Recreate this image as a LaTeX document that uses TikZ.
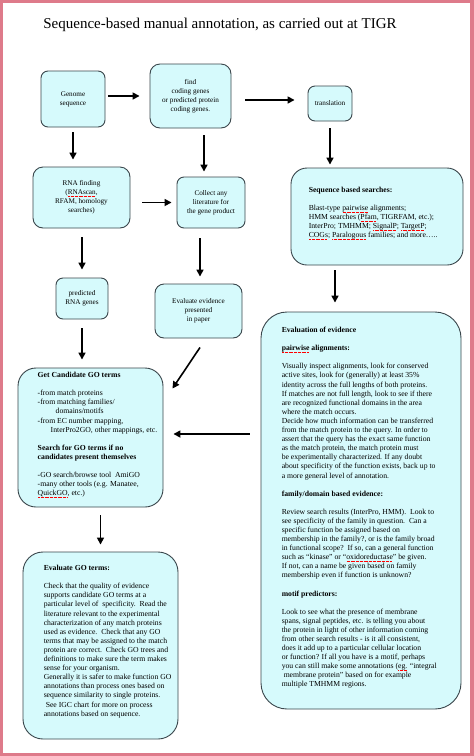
\documentclass[tikz,border=0pt]{standalone}
\usepackage{fontspec}
\setmainfont{Liberation Serif}
\usetikzlibrary{arrows.meta}

\definecolor{boxfill}{RGB}{214,250,252}
\definecolor{boxline}{RGB}{58,70,76}
\definecolor{framepink}{RGB}{222,122,138}

% red spell-check marks under some words
\newsavebox{\splbox}
\newcommand{\spl}[1]{\sbox\splbox{#1}\rlap{\color{red}\raisebox{-1.8pt}{\hbox to\wd\splbox{\leaders\hbox to 1.3pt{\hss\rule{0.7pt}{0.4pt}\hss}\hfill}}}#1}

\begin{document}
\begin{tikzpicture}[x=1pt, y=-1pt, >={Triangle[length=7pt,width=7pt]},
    box/.style={draw=boxline, fill=boxfill, line width=0.9pt, rounded corners=7pt, align=center, inner sep=2pt, font=\fontsize{7.2}{9}\selectfont},
    bigbox/.style={draw=boxline, fill=boxfill, line width=0.9pt, rounded corners=20pt},
    txt/.style={align=left, inner sep=0pt, font=\fontsize{7.7}{9.1}\selectfont},
    arr/.style={->, line width=1.6pt}]
    \useasboundingbox (0,0) rectangle (474,756);
    \fill[framepink] (0,0) rectangle (474,756);
    \fill[white] (3,3) rectangle (470,753);

    % Title
    \node[font=\fontsize{15}{18}\selectfont, anchor=base] (title) at (220,28) {Sequence-based manual annotation, as carried out at TIGR};

    % Define boxes
    \node[box, minimum width=64pt, minimum height=56pt] (genome) at (73,99) {Genome\\sequence};
    \node[box, minimum width=81pt, minimum height=64pt, rounded corners=10pt] (find) at (190.5,96) {find\\coding genes\\or predicted protein\\coding genes.};
    \node[box, minimum width=44pt, minimum height=35pt, inner sep=1pt] (trans) at (330,103.5) {translation};
    \node[box, minimum width=97pt, minimum height=61pt, rounded corners=10pt] (rna) at (81.5,197.5) {RNA finding\\(\spl{RNAscan},\\RFAM, homology\\searches)};
    \node[box, minimum width=68pt, minimum height=51pt] (collect) at (211,202.5) {Collect any\\literature for\\the gene product};
    \node[bigbox, minimum width=172pt, minimum height=97pt, rounded corners=16pt] (seq) at (377,216.5) {};
    \node[box, minimum width=52pt, minimum height=41pt] (pred) at (82,298.5) {predicted\\RNA genes};
    \node[box, minimum width=87pt, minimum height=54pt, rounded corners=9pt] (evid) at (198.5,311) {Evaluate evidence\\presented\\in paper};
    \node[bigbox, minimum width=145pt, minimum height=139pt, rounded corners=18pt] (cand) at (90.5,437.5) {};
    \node[bigbox, minimum width=200pt, minimum height=397pt, rounded corners=26pt] (evaluation) at (361,510.5) {};
    \node[bigbox, minimum width=155pt, minimum height=187pt] (goterms) at (100.5,645.5) {};

    % Texts of the big boxes
    \node[txt, anchor=north west] (seqtext) at ([shift={(18,19.5)}]seq.north west) {\textbf{Sequence based searches:}\\[9pt]
        Blast-type \spl{pairwise} alignments;\\
        HMM searches (\spl{Pfam}, TIGRFAM, etc.);\\
        InterPro; TMHMM; \spl{SignalP}; \spl{TargetP};\\
        \spl{COGs}; \spl{Paralogous} families; and more\dots..};
    \node[txt, anchor=north west] (candtext) at ([shift={(20,4.5)}]cand.north west) {\textbf{Get Candidate GO terms}\\[9pt]
        -from match proteins\\
        -from matching families/\\
        \hspace*{18pt}domains/motifs\\
        -from EC number mapping,\\
        \hspace*{13pt}InterPro2GO, other mappings, etc.\\[9pt]
        \textbf{Search for GO terms if no}\\
        \textbf{candidates present themselves}\\[9pt]
        -GO search/browse tool\ \ AmiGO\\
        -many other tools (e.g. Manatee,\\
        \spl{QuickGO}, etc.)};
    \node[txt, anchor=north west] (evaltext) at ([shift={(21,15.5)}]evaluation.north west) {\textbf{Evaluation of evidence}\\[9pt]
        \textbf{\spl{pairwise} alignments:}\\[9pt]
        Visually inspect alignments, look for conserved\\
        active sites, look for (generally) at least 35\%\\
        identity across the full lengths of both proteins.\\
        If matches are not full length, look to see if there\\
        are recognized functional domains in the area\\
        where the match occurs.\\
        Decide how much information can be transferred\\
        from the match protein to the query. In order to\\
        assert that the query has the exact same function\\
        as the match protein, the match protein must\\
        be experimentally characterized. If any doubt\\
        about specificity of the function exists, back up to\\
        a more general level of annotation.\\[9pt]
        \textbf{family/domain based evidence:}\\[9pt]
        Review search results (InterPro, HMM).\ \ Look to\\
        see specificity of the family in question.\ \ Can a\\
        specific function be assigned based on\\
        membership in the family?, or is the family broad\\
        in functional scope?\ \ If so, can a general function\\
        such as ``kinase'' or ``\spl{oxidoreductase}'' be given.\\
        If not, can a name be given based on family\\
        membership even if function is unknown?\\[9pt]
        \textbf{motif predictors:}\\[9pt]
        Look to see what the presence of membrane\\
        spans, signal peptides, etc. is telling you about\\
        the protein in light of other information coming\\
        from other search results - is it all consistent,\\
        does it add up to a particular cellular location\\
        or function? If all you have is a motif, perhaps\\
        you can still make some annotations (\spl{eg.} ``integral\\
        \hspace*{2pt}membrane protein'' based on for example\\
        multiple TMHMM regions.};
    \node[txt, anchor=north west] (gotext) at ([shift={(21,13.5)}]goterms.north west) {\textbf{Evaluate GO terms:}\\[9pt]
        Check that the quality of evidence\\
        supports candidate GO terms at a\\
        particular level of\ \ specificity.\ \ Read the\\
        literature relevant to the experimental\\
        characterization of any match proteins\\
        used as evidence.\ \ Check that any GO\\
        terms that may be assigned to the match\\
        protein are correct.\ \ Check GO trees and\\
        definitions to make sure the term makes\\
        sense for your organism.\\
        Generally it is safer to make function GO\\
        annotations than process ones based on\\
        sequence similarity to single proteins.\\
        \hspace*{2pt}See IGC chart for more on process\\
        annotations based on sequence.};

    % Draw arrows
    \draw[arr, shorten <=3pt, shorten >=10pt] ([yshift=3pt]genome.east) -- ([yshift=3pt]genome.east -| find.west);
    \draw[arr, shorten <=14pt, shorten >=13pt] ([yshift=3.5pt]trans.west -| find.east) -- ([yshift=3.5pt]trans.west);
    \draw[arr, shorten <=7pt, shorten >=3pt] (trans.south) -- (trans.south |- seq.north);
    \draw[arr, shorten <=5pt, shorten >=7pt] (genome.south) -- (genome.south |- rna.north);
    \draw[arr, shorten <=7pt, shorten >=5pt] ([xshift=13.5pt]find.south) -- ([xshift=13.5pt]find.south |- collect.north);
    \draw[arr, shorten <=12pt, shorten >=5pt] (collect.west -| rna.east) -- (collect.west);
    \draw[arr, shorten <=9pt, shorten >=8pt] (pred.north |- rna.south) -- (pred.north);
    \draw[arr, shorten <=10pt, shorten >=7pt] ([xshift=1.5pt]evid.north |- collect.south) -- ([xshift=1.5pt]evid.north);
    \draw[arr, shorten <=9pt, shorten >=8pt] (pred.south) -- (pred.south |- cand.north);
    \draw[arr] ([xshift=1.5pt,yshift=-9pt]evid.south) -- ([xshift=9pt,yshift=-21pt]cand.north east);
    \draw[arr, shorten <=11pt, shorten >=10pt] ([yshift=3.5pt]cand.east -| evaluation.west) -- ([yshift=3.5pt]cand.east);
    \draw[arr, shorten <=5pt, shorten >=9pt] ([xshift=-42pt]seq.south) -- ([xshift=-42pt]seq.south |- evaluation.north);
    \draw[arr, shorten <=8pt, shorten >=7pt] (goterms.north |- cand.south) -- (goterms.north);
\end{tikzpicture}
\end{document}
